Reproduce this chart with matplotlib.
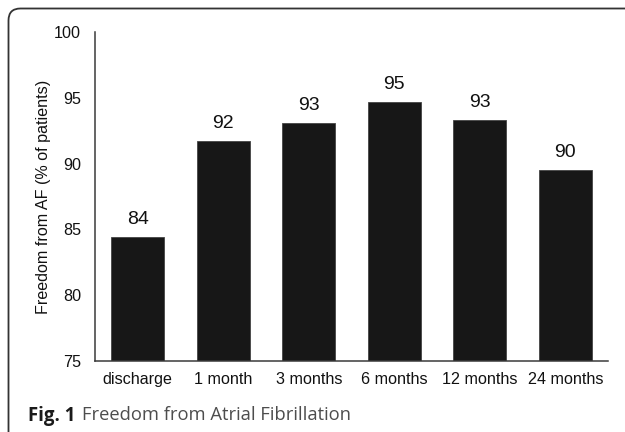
import matplotlib
matplotlib.use("Agg")
import matplotlib.pyplot as plt
from matplotlib.patches import FancyBboxPatch
from matplotlib.transforms import IdentityTransform

categories = ["discharge", "1 month", "3 months", "6 months", "12 months", "24 months"]
values = [84.4, 91.7, 93.1, 94.7, 93.3, 89.5]
value_labels = ["84", "92", "93", "95", "93", "90"]
yticks = [75, 80, 85, 90, 95, 100]

plt.rcParams['font.family'] = ['Liberation Sans', 'DejaVu Sans']

fig = plt.figure(figsize=(6.25, 4.32), dpi=100)
ax = fig.add_axes([0.152, 0.1644, 0.8208, 0.7616])

x = list(range(len(categories)))
bars = ax.bar(x, values, width=0.62, bottom=0, color='#171717',
              edgecolor='#444444', linewidth=0.6)
ax.bar_label(bars, labels=value_labels, padding=6.5, fontsize=14, color='#111111')

ax.set_ylim(75, 100)
ax.set_xlim(-0.5, 5.5)
ax.set_yticks(yticks)
ax.set_yticklabels([str(v) for v in yticks])
ax.set_xticks(x)
ax.set_xticklabels(categories)
ax.tick_params(axis='y', length=0, pad=10, labelsize=11.6, labelcolor='#111111')
ax.tick_params(axis='x', length=0, pad=8, labelsize=11.6, labelcolor='#111111')
for s in ['top', 'right']:
    ax.spines[s].set_visible(False)
for s in ['left', 'bottom']:
    ax.spines[s].set_color('#3a3a3a')
    ax.spines[s].set_linewidth(1.1)
ax.set_ylabel("Freedom from AF (% of patients)", fontsize=11.6, color='#111111')
ax.yaxis.set_label_coords(-0.086, 0.5)

# frame
frame = FancyBboxPatch((8.5, -30), 640, 432 - 8.5 + 30,
                       boxstyle="round,pad=0,rounding_size=12",
                       transform=IdentityTransform(), fill=False,
                       edgecolor='#333333', linewidth=1.3)
fig.add_artist(frame)

# caption
t1 = fig.text(28 / 625, 1 - 420.5 / 432, "Fig. 1", fontsize=13.4, fontweight='bold',
              family=['Open Sans', 'DejaVu Sans'], color='#1a1a1a', va='baseline', ha='left')
fig.canvas.draw()
bb = t1.get_window_extent()
fig.text((bb.x1 + 7) / 625, 1 - 420.5 / 432, "Freedom from Atrial Fibrillation",
         fontsize=13.2, family=['Open Sans', 'DejaVu Sans'], color='#4d4d4d',
         va='baseline', ha='left')

fig.savefig("out.png", dpi=100)
